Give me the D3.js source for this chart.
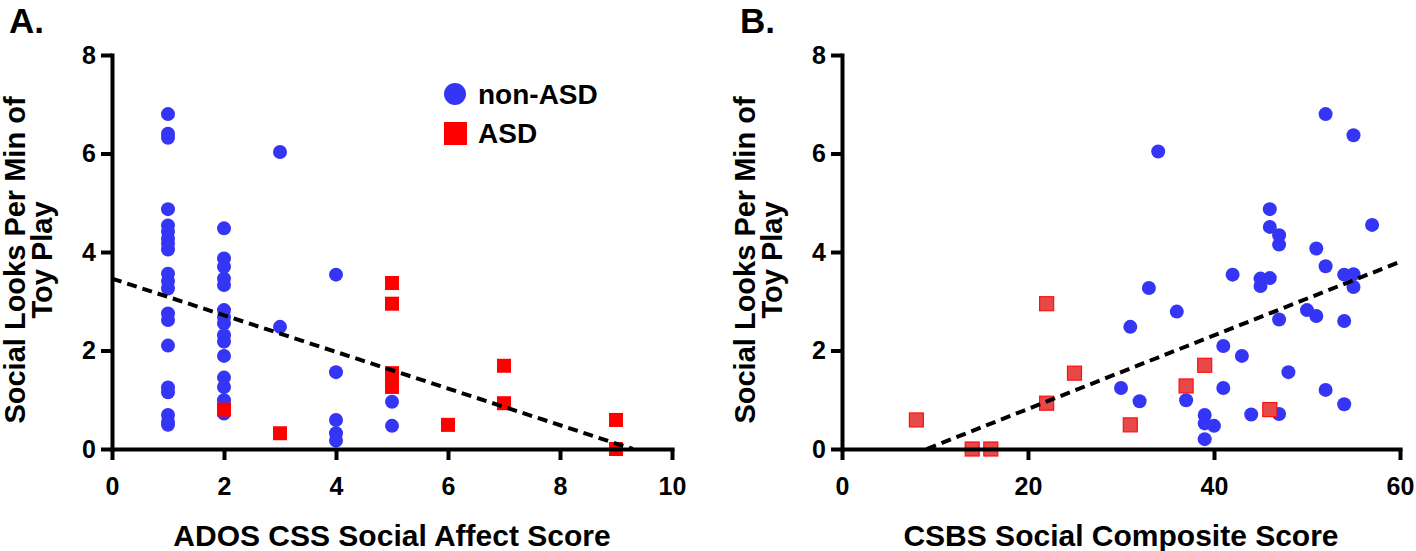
<!DOCTYPE html>
<html>
<head>
<meta charset="utf-8">
<script src="https://cdn.jsdelivr.net/npm/d3@7"></script>
<style>
  html, body { margin: 0; padding: 0; background: #fff; }
  svg { display: block; font-family: "Liberation Sans", Arial, Helvetica, sans-serif; font-weight: bold; }
</style>
</head>
<body>
<svg id="chart" width="1416" height="551"></svg>
<script>
// ---------- DATA ----------
const yTicks = [0, 2, 4, 6, 8];
const adosTicks = [0, 2, 4, 6, 8, 10];
const csbsTicks = [0, 20, 40, 60];

// Panel A: ADOS CSS Social Affect Score vs social looks
const adosNonAsdX = [1,1,1,1,1,1,1,1,1,1,1,1,1,1,1,1,1,1,1,1,
                     2,2,2,2,2,2,2,2,2,2,2,2,2,2,2,
                     3,3, 4,4,4,4,4, 5,5];
const adosNonAsdY = [6.8,6.4,6.32,4.87,4.54,4.41,4.27,4.17,4.05,3.56,3.41,3.26,2.75,2.62,2.10,1.25,1.15,0.69,0.55,0.49,
                     4.48,3.87,3.70,3.46,3.33,2.82,2.68,2.55,2.31,2.18,1.89,1.45,1.26,0.99,0.72,
                     6.03,2.48, 3.54,1.56,0.59,0.32,0.17, 0.96,0.47];
const adosAsdX = [2,3,5,5,5,5,5,6,7,7,9,9];
const adosAsdY = [0.80,0.32,3.37,2.95,1.54,1.40,1.26,0.49,1.69,0.93,0.59,0.0];
const adosFit = [[0, 3.46], [9.3, 0]];

// Panel B: CSBS Social Composite Score vs social looks
const csbsNonAsdX = [52,55,34,46,46,47,47,57,51,52,54,55,55,42,45,46,45,33,36,31,47,50,51,54,41,43,48,30,32,37,41,52,54,39,39,40,39,44,47];
const csbsNonAsdY = [6.80,6.37,6.04,4.87,4.51,4.34,4.15,4.55,4.07,3.71,3.54,3.55,3.29,3.54,3.46,3.47,3.31,3.27,2.79,2.48,2.63,2.82,2.70,2.60,2.09,1.89,1.56,1.24,0.97,0.99,1.24,1.20,0.91,0.69,0.52,0.47,0.20,0.70,0.71];
const csbsAsdX = [8,22,25,22,14,16,39,37,31,46];
const csbsAsdY = [0.59,2.95,1.54,0.93,0.0,0.0,1.70,1.28,0.49,0.80];
const csbsFit = [[9.1, 0], [60, 3.80]];

const yTitleLines = ["Social Looks Per Min of", "Toy Play"];
const legendLabels = ["non-ASD", "ASD"];

// ---------- DRAW ----------
const svg = d3.select("#chart");
const BLUE = "#3535f5";
const RED = "#ff0000";

function panel(opts) {
  const x = d3.scaleLinear().domain(opts.xDomain).range(opts.xRange);
  const y = d3.scaleLinear().domain([0, 8]).range([449, 55]);
  const g = svg.append("g");

  // non-ASD circles
  g.selectAll("circle.n").data(opts.nx.map((v, i) => [v, opts.ny[i]])).enter()
    .append("circle").attr("class", "n")
    .attr("cx", d => x(d[0])).attr("cy", d => y(d[1])).attr("r", 7)
    .attr("fill", BLUE);

  // ASD squares
  const s = 14;
  g.selectAll("rect.a").data(opts.ax.map((v, i) => [v, opts.ay[i]])).enter()
    .append("rect").attr("class", "a")
    .attr("x", d => x(d[0]) - s / 2).attr("y", d => y(d[1]) - s / 2)
    .attr("width", s).attr("height", s)
    .attr("fill", opts.sqFill).attr("stroke", opts.sqStroke).attr("stroke-width", opts.sqStroke === "none" ? 0 : 1.2);

  // regression
  g.append("path").datum(opts.fit)
    .attr("d", d3.line().x(d => x(d[0])).y(d => y(d[1])))
    .attr("stroke", "#000").attr("stroke-width", 4).attr("stroke-dasharray", "10,6")
    .attr("fill", "none");

  // axes
  const xAxis = g.append("g").attr("transform", "translate(0,449)")
    .call(d3.axisBottom(x).tickValues(opts.xTicks).tickSize(11).tickSizeOuter(0).tickPadding(17).tickFormat(d3.format("d")));
  const yAxis = g.append("g").attr("transform", `translate(${opts.xRange[0]},0)`)
    .call(d3.axisLeft(y).tickValues(yTicks).tickSize(11).tickSizeOuter(0).tickPadding(5).tickFormat(d3.format("d")));
  [xAxis, yAxis].forEach(a => {
    a.select(".domain").attr("stroke", "#000").attr("stroke-width", 4).attr("stroke-linecap", "square");
    a.selectAll(".tick line").attr("stroke", "#000").attr("stroke-width", 4);
    a.selectAll(".tick text").attr("fill", "#000")
      .style("font-size", "25px").style("font-weight", "bold")
      .style("font-family", "'Liberation Sans', Arial, sans-serif");
  });

  // x title
  g.append("text")
    .attr("x", (opts.xRange[0] + opts.xRange[1]) / 2).attr("y", 546)
    .attr("text-anchor", "middle").style("font-size", "30px")
    .text(opts.xTitle);

  // y title
  const cy = 260;
  const yt = g.append("text")
    .attr("transform", `translate(${opts.xRange[0] - 87},${cy}) rotate(-90)`)
    .attr("text-anchor", "middle").style("font-size", "29px");
  yt.selectAll("tspan").data(yTitleLines).enter().append("tspan")
    .attr("x", 0).attr("y", (d, i) => i * 27).text(d => d);

  // panel label
  g.append("text").attr("x", opts.labelX).attr("y", 33)
    .style("font-size", "35px").text(opts.label);
}

panel({
  xDomain: [0, 10], xRange: [112, 672], xTicks: adosTicks,
  nx: adosNonAsdX, ny: adosNonAsdY, ax: adosAsdX, ay: adosAsdY,
  sqFill: RED, sqStroke: "none", fit: adosFit,
  xTitle: "ADOS CSS Social Affect Score", label: "A.", labelX: 9
});

panel({
  xDomain: [0, 60], xRange: [842, 1400], xTicks: csbsTicks,
  nx: csbsNonAsdX, ny: csbsNonAsdY, ax: csbsAsdX, ay: csbsAsdY,
  sqFill: "#e84848", sqStroke: "#ff1010", fit: csbsFit,
  xTitle: "CSBS Social Composite Score", label: "B.", labelX: 740
});

// legend (panel A)
const leg = svg.append("g");
leg.append("circle").attr("cx", 455).attr("cy", 94).attr("r", 11).attr("fill", BLUE);
leg.append("rect").attr("x", 444).attr("y", 122).attr("width", 23).attr("height", 23).attr("fill", RED);
leg.selectAll("text").data(legendLabels).enter().append("text")
  .attr("x", 478).attr("y", (d, i) => 104 + i * 39)
  .style("font-size", "28px").text(d => d);
</script>
</body>
</html>
